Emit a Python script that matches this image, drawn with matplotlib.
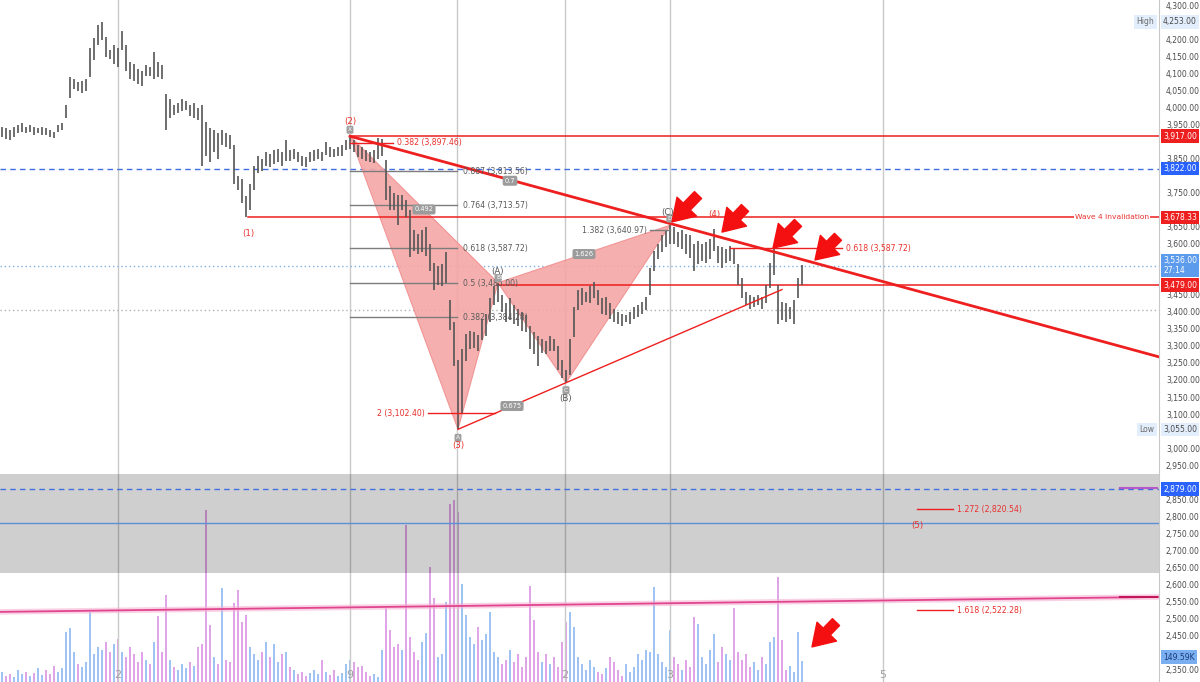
import matplotlib
matplotlib.use('Agg')
import matplotlib.pyplot as plt
from matplotlib.transforms import blended_transform_factory
import numpy as np

# ---- price bars (one per bar index) ----
highs = [
    3945, 3940, 3935, 3945, 3950, 3955, 3945, 3950, 3945, 3940,
    3945, 3940, 3935, 3930, 3950, 3955, 4010, 4090, 4085, 4075,
    4080, 4085, 4175, 4205, 4245, 4253, 4210, 4170, 4185, 4175,
    4225, 4185, 4135, 4130, 4115, 4110, 4125, 4120, 4165, 4135,
    4125, 4040, 4025, 4010, 4015, 4025, 4020, 4010, 4015, 4000,
    4010, 3960, 3940, 3935, 3925, 3935, 3925, 3920, 3890, 3800,
    3790, 3740, 3775, 3830, 3860, 3850, 3870, 3865, 3875, 3880,
    3870, 3905, 3875, 3880, 3870, 3860, 3855, 3870, 3875, 3880,
    3870, 3900, 3885, 3880, 3885, 3890, 3905, 3917, 3905, 3890,
    3885, 3875, 3870, 3875, 3912, 3910, 3848, 3770, 3750, 3745,
    3745, 3730, 3700, 3640, 3630, 3640, 3650, 3600, 3545, 3535,
    3540, 3575, 3435, 3370, 3260, 3290, 3335, 3345, 3340, 3333,
    3380, 3395, 3440, 3475, 3486, 3450, 3425, 3440, 3420, 3410,
    3400, 3390, 3360, 3340, 3330, 3320, 3315, 3330, 3320, 3300,
    3260, 3230, 3320, 3415, 3465, 3470, 3460, 3475, 3488, 3465,
    3440, 3445, 3425, 3410, 3400, 3395, 3390, 3400, 3415, 3420,
    3430, 3445, 3530, 3580, 3600, 3625, 3640, 3655, 3650, 3635,
    3640, 3630, 3625, 3600, 3610, 3600, 3605, 3615, 3645, 3595,
    3590, 3585, 3595, 3585, 3540, 3500, 3460, 3450, 3445, 3450,
    3445, 3480, 3545, 3585, 3480, 3430, 3425, 3415, 3435, 3500,
    3539,
]
lows = [
    3915, 3910, 3905, 3915, 3925, 3930, 3925, 3930, 3920, 3925,
    3920, 3920, 3915, 3912, 3930, 3935, 3970, 4030, 4055, 4050,
    4045, 4050, 4090, 4140, 4185, 4200, 4150, 4145, 4130, 4120,
    4170, 4110, 4085, 4080, 4070, 4065, 4095, 4095, 4085, 4090,
    4085, 3935, 3970, 3980, 3985, 3990, 3995, 3975, 3970, 3965,
    3830, 3860, 3840, 3870, 3850, 3890, 3885, 3880, 3775, 3760,
    3720, 3678, 3700, 3760, 3810, 3815, 3830, 3825, 3835, 3840,
    3830, 3845, 3845, 3850, 3840, 3830, 3827, 3840, 3845, 3850,
    3845, 3862, 3855, 3855, 3860, 3860, 3875, 3880, 3870, 3855,
    3850, 3845, 3840, 3838, 3850, 3860, 3730, 3700, 3700, 3655,
    3700, 3680, 3562, 3580, 3570, 3575, 3565, 3520, 3465, 3480,
    3475, 3485, 3348, 3240, 3055, 3100, 3255, 3290, 3295, 3285,
    3318, 3330, 3370, 3420, 3430, 3400, 3370, 3375, 3365, 3360,
    3345, 3340, 3290, 3275, 3240, 3280, 3275, 3285, 3285, 3230,
    3205, 3192, 3215, 3325, 3405, 3420, 3430, 3425, 3440, 3420,
    3395, 3390, 3380, 3370, 3365, 3360, 3370, 3365, 3380, 3385,
    3395, 3405, 3450, 3520, 3555, 3575, 3590, 3600, 3600, 3590,
    3585, 3570, 3560, 3520, 3540, 3550, 3545, 3555, 3580, 3545,
    3530, 3545, 3550, 3540, 3480, 3440, 3420, 3410, 3415, 3420,
    3410, 3425, 3470, 3510, 3365, 3375, 3370, 3380, 3365, 3440,
    3480,
]
volume_k = [
    70, 42, 56, 35, 84, 56, 70, 42, 63, 98, 49, 84, 56, 112, 70, 98,
    350, 378, 210, 126, 105, 140, 490, 196, 245, 224, 280, 210, 266, 301, 210, 175,
    245, 196, 140, 210, 154, 126, 280, 462, 210, 609, 154, 105, 84, 126, 98, 140,
    112, 245, 266, 1204, 399, 175, 126, 658, 154, 140, 553, 644, 420, 469, 245, 196,
    154, 210, 280, 175, 266, 140, 196, 210, 105, 84, 56, 70, 42, 63, 84, 56,
    154, 70, 49, 84, 42, 63, 126, 154, 140, 105, 112, 70, 42, 56, 35, 224,
    518, 364, 245, 266, 224, 1099, 315, 210, 154, 280, 343, 805, 588, 175, 196, 560,
    1246, 1274, 1190, 686, 469, 315, 266, 385, 294, 336, 490, 210, 175, 126, 154, 224,
    140, 196, 105, 175, 672, 434, 210, 140, 196, 126, 175, 105, 280, 420, 490, 385,
    175, 126, 84, 154, 105, 70, 56, 98, 175, 140, 84, 42, 126, 70, 105, 196,
    154, 224, 210, 665, 196, 140, 105, 364, 175, 126, 84, 154, 105, 455, 406, 175,
    126, 224, 336, 140, 245, 196, 154, 518, 210, 154, 196, 105, 140, 84, 175, 126,
    280, 315, 735, 294, 84, 112, 70, 350, 149.59,
]

# ---- harmonic pattern X A B C D ----
pattern_idx = [87, 114, 124, 141, 167]
pattern_price = [3917, 3055, 3486, 3192, 3655]
pattern_ratios = ['0.492', '0.675', '1.626', '0.7']   # XB, AC, BD, XD

# ---- fibonacci retracement of the X-A leg ----
fib_ratios = ['0.887', '0.764', '0.618', '0.5', '0.382']
fib_prices = [3813.56, 3713.57, 3587.72, 3485.00, 3384.28]

# ---- horizontal levels ----
red_levels = [3917.00, 3678.33, 3479.00]
red_level_start = [87, 61.5, 123.75]
blue_dashed = [3822.00, 2879.00]
blue_solid = 2779
gray_band = (2632, 2924)
last_price = 3536.00
gray_dotted = 3406

trend_x = [87, 289.25]
trend_y = [3917, 3268]
pink_x = [-0.5, 289.25]
pink_y = [2518, 2562]

grid_bars = [29, 87, 113.75, 140.75, 167, 220.25]
time_labels = ['2', '9', '', '2', '3', '5']

RED = '#ee1f1f'
TXT_RED = '#e8302c'
BLUE = '#2962ff'
BAR = '#555555'
LBL = 5.6

fig = plt.figure(figsize=(12, 6.82), dpi=100)
rect = [0, 0, 1159 / 1200, 1]
ax_vol = fig.add_axes(rect)
ax = fig.add_axes(rect)
ax.patch.set_visible(False)

xmin, xmax = -0.5, 289.25
ymin, ymax = 2311.8, 4317.6
idx = np.arange(len(highs))

# volume
mids = (np.array(highs) + np.array(lows)) / 2
up = np.r_[True, mids[1:] >= mids[:-1]]
vcols = np.where(up, '#9fc3f2', '#dfa5e6')
ax_vol.bar(idx, volume_k, width=0.55, color=vcols, linewidth=0)
ax_vol.set_xlim(xmin, xmax)
ax_vol.set_ylim(0, 682 * 7)
ax_vol.axis('off')

ax.set_xlim(xmin, xmax)
ax.set_ylim(ymin, ymax)

# grid (vertical lines only)
for g in grid_bars:
    ax.axvline(g, color='#c9c9c9', lw=1, zorder=0)

# band and horizontal levels
ax.axhspan(gray_band[0], gray_band[1], color='black', alpha=0.19, lw=0, zorder=1)
for lv in blue_dashed:
    ax.axhline(lv, color='#3f6fe0', lw=1, ls=(0, (4, 3)), zorder=2)
ax.axhline(blue_solid, color='#5d8fd6', lw=1, zorder=2)
ax.axhline(last_price, color='#7fb0e8', lw=1, ls=(0, (1, 2)), zorder=2)
ax.axhline(gray_dotted, color='#b0b0b0', lw=1, ls=(0, (1, 2)), zorder=2)
for lv, st in zip(red_levels, red_level_start):
    ax.plot([st, xmax], [lv, lv], color=RED, lw=1.1, zorder=4)

ax.plot(pink_x, pink_y, color='#f7b3d3', lw=4, alpha=0.6, zorder=2)
ax.plot(pink_x, pink_y, color='#e0468e', lw=1.3, zorder=2)
ax.plot([279.5, 288.7], [2882, 2882], color='#b45ac8', lw=1.5, zorder=2)
ax.plot([279.5, 288.7], [pink_y[1], pink_y[1]], color='#c2185b', lw=1.5, zorder=2)

# harmonic pattern
px, pp = pattern_idx, pattern_price
ax.fill([px[0], px[1], px[2]], [pp[0], pp[1], pp[2]], color='#f5a6a6', alpha=0.9, lw=0, zorder=3)
ax.fill([px[2], px[3], px[4]], [pp[2], pp[3], pp[4]], color='#f5a6a6', alpha=0.9, lw=0, zorder=3)
ax.plot([px[0], px[1], px[2], px[0]], [pp[0], pp[1], pp[2], pp[0]], color='#f29494', lw=0.8, zorder=3)
ax.plot([px[2], px[3], px[4], px[2]], [pp[2], pp[3], pp[4], pp[2]], color='#f29494', lw=0.8, zorder=3)
pairs = [(0, 2), (1, 3), (2, 4), (0, 4)]
for (a, b), r in zip(pairs, pattern_ratios):
    ax.text((px[a] + px[b]) / 2, (pp[a] + pp[b]) / 2, r, fontsize=4.8, color='white',
            ha='center', va='center', zorder=9,
            bbox=dict(boxstyle='round,pad=0.3', fc='#9b9b9b', ec='none'))

# fibonacci retracement
for r, p in zip(fib_ratios, fib_prices):
    ax.plot([87, 113.75], [p, p], color='#7d7d7d', lw=1, zorder=4)
    ax.text(115.3, p, f'{r} ({p:,.2f})', fontsize=LBL, color='#5a5a5a', va='center', zorder=8)

# price bars
ax.vlines(idx, lows, highs, color=BAR, lw=1.2, zorder=5)

# trend lines
ax.plot(trend_x, trend_y, color=RED, lw=2, zorder=6)
slope = (pp[3] - pp[1]) / (px[3] - px[1])
ax.plot([px[1], 195], [pp[1], pp[1] + slope * (195 - px[1])], color=RED, lw=1, zorder=6)

# extension / projection labels
ext = [('0.382', 3897.46, 87, 97.75, RED), ('2', 3102.40, 106.5, 123.25, RED),
       ('1.382', 3640.97, 162, 167, '#7d7d7d'), ('0.618', 3587.72, 182, 210, RED),
       ('1.272', 2820.54, 228.75, 237.75, RED), ('1.618', 2522.28, 228.75, 237.75, RED)]
for r, p, s, e, c in ext:
    ax.plot([s, e], [p, p], color=c, lw=1, zorder=6)
    tc = TXT_RED if c == RED else '#5a5a5a'
    if r in ('2', '1.382'):
        ax.text(s - 0.8, p, f'{r} ({p:,.2f})', fontsize=LBL, color=tc, ha='right', va='center', zorder=8)
    else:
        ax.text(e + 1.0, p, f'{r} ({p:,.2f})', fontsize=LBL, color=tc, va='center', zorder=8)

# wave labels
waves = [('(1)', 61.5, 3632, TXT_RED), ('(2)', 87, 3960, TXT_RED), ('(3)', 114, 3008, TXT_RED),
         ('(4)', 178, 3688, TXT_RED), ('(5)', 228.75, 2771, TXT_RED),
         ('(A)', 123.75, 3520, '#555555'), ('(B)', 141, 3147, '#555555'), ('(C)', 166.5, 3693, '#555555')]
for t, x, y, c in waves:
    ax.text(x, y, t, fontsize=6.2, color=c, ha='center', va='center', zorder=9)
markers = [('X', 87, 3936), ('A', 114, 3030), ('B', 124, 3500), ('C', 141, 3170), ('D', 167, 3675)]
for t, x, y in markers:
    ax.text(x, y, t, fontsize=4.2, color='white', ha='center', va='center', zorder=8,
            bbox=dict(boxstyle='round,pad=0.25', fc='#a0a0a0', ec='none'))

# arrows
arrows = [((167.5, 3665), (174, 3744)), ((180, 3635), (185.75, 3706)),
          ((192.75, 3588), (199, 3662)), ((203.25, 3553), (209, 3621)),
          ((202.5, 2415), (208.5, 2488))]
for tip, tail in arrows:
    ax.annotate('', xy=tip, xytext=tail, zorder=10,
                arrowprops=dict(arrowstyle='simple,head_length=0.9,head_width=1.15,tail_width=0.42',
                                color='#f41010', shrinkA=0, shrinkB=0, mutation_scale=17))

ax.text(286.8, 3678.33, 'Wave 4 Invalidation', fontsize=5.4, color=TXT_RED, ha='right', va='center',
        zorder=8, bbox=dict(boxstyle='square,pad=0.15', fc='white', ec='none'))

# time labels
for g, t in zip(grid_bars, time_labels):
    ax.text(g, 2332, t, fontsize=8, color='#a0a0a0', ha='center', va='center', zorder=8)

# right price scale
tags = [(4253.00, '4,253.00', '#e3eefc', '#4a4a4a', 1), (3917.00, '3,917.00', RED, 'white', 1),
        (3822.00, '3,822.00', BLUE, 'white', 1), (3678.33, '3,678.33', RED, 'white', 1),
        (3536.00, '3,536.00\n27:14', '#5d9cec', 'white', 2), (3479.00, '3,479.00', RED, 'white', 1),
        (3055.00, '3,055.00', '#e3eefc', '#4a4a4a', 1), (2879.00, '2,879.00', BLUE, 'white', 1),
        (2385.0, '149.59K', '#79aef0', '#1a3a7a', 1)]

ax.yaxis.tick_right()
ticks = np.arange(2350, 4301, 50)
labels = []
for t in ticks:
    hidden = any(abs(t - p) < (26 if n == 1 else 46) for p, _, _, _, n in tags)
    labels.append('' if hidden else f'{t:,.2f}')
ax.set_yticks(ticks)
ax.set_yticklabels(labels)
ax.tick_params(axis='y', labelsize=5.5, colors='#4a4a4a', length=0, pad=5)
ax.set_xticks([])
for s in ['top', 'left', 'bottom']:
    ax.spines[s].set_visible(False)
ax.spines['right'].set_color('#c8c8c8')

tr = blended_transform_factory(ax.transAxes, ax.transData)
for p, t, fc, tc, n in tags:
    ax.text(1.0035, p, t, transform=tr, fontsize=5.5, color=tc, ha='left', va='center',
            linespacing=1.1, zorder=11, clip_on=False,
            bbox=dict(boxstyle='square,pad=0.3', fc=fc, ec='none'))
for p, t in [(4253.00, 'High'), (3055.00, 'Low')]:
    ax.text(0.996, p, t, transform=tr, fontsize=5.5, color='#6a6a6a', ha='right', va='center',
            zorder=11, bbox=dict(boxstyle='square,pad=0.3', fc='#e3eefc', ec='none'))

fig.savefig('out.png', dpi=100)
